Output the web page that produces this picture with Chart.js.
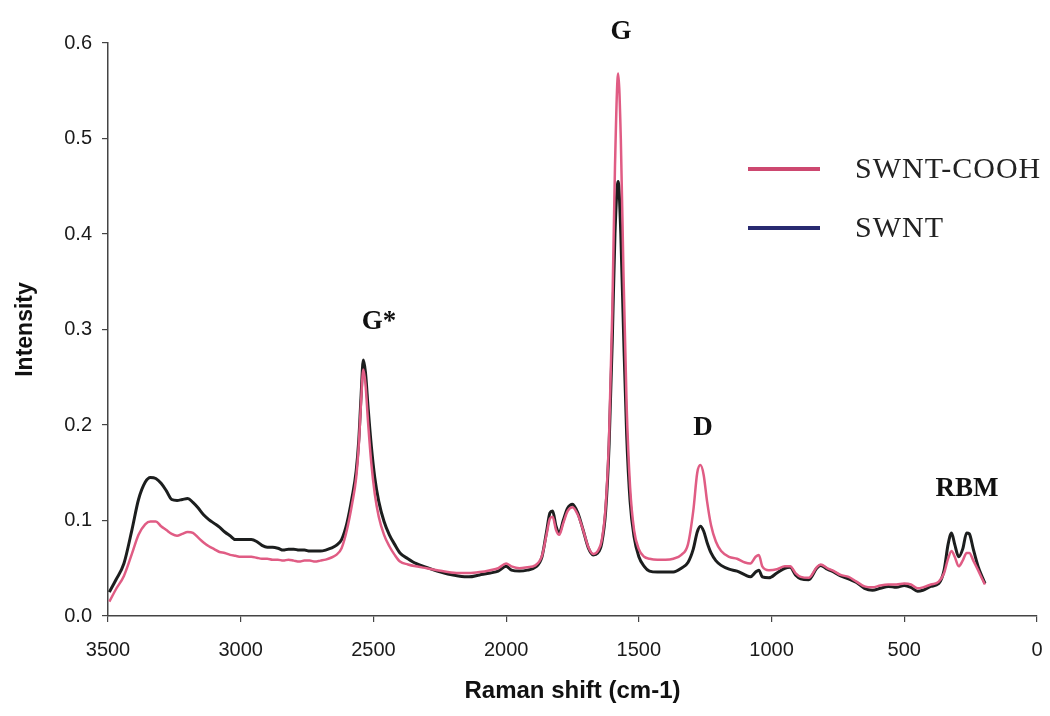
<!DOCTYPE html>
<html>
<head>
<meta charset="utf-8">
<script src="https://cdn.jsdelivr.net/npm/chart.js@4.4.1/dist/chart.umd.min.js"></script>
<style>
  html, body { margin: 0; padding: 0; background: #fff; }
  #wrap { width: 1050px; height: 716px; position: relative; }
</style>
</head>
<body>
<div id="wrap"><canvas id="ramanChart"></canvas></div>
<script>
// Raman shift (cm-1)
const shift = [
  3495, 3470, 3440, 3410, 3385, 3360, 3340, 3320, 3300, 3280,
  3260, 3240, 3220, 3200, 3180, 3160, 3140, 3120, 3100, 3080,
  3060, 3040, 3020, 3000, 2980, 2960, 2940, 2920, 2900, 2880,
  2860, 2840, 2820, 2800, 2780, 2760, 2740, 2720, 2700, 2680,
  2660, 2640, 2620, 2600, 2580, 2565, 2555, 2547, 2538, 2530,
  2520, 2508, 2495, 2480, 2460, 2440, 2420, 2400, 2370, 2340,
  2300, 2260, 2220, 2180, 2140, 2100, 2060, 2030, 2000, 1980,
  1950, 1920, 1890, 1865, 1848, 1835, 1825, 1812, 1800, 1785,
  1768, 1750, 1730, 1710, 1690, 1672, 1655, 1640, 1625, 1612,
  1600, 1590, 1578, 1568, 1558, 1546, 1533, 1518, 1500, 1480,
  1460, 1430, 1400, 1370, 1340, 1315, 1295, 1280, 1268, 1256,
  1243, 1228, 1210, 1190, 1160, 1130, 1100, 1080, 1060, 1048,
  1035, 1010, 980, 950, 930, 910, 890, 860, 830, 815,
  790, 765, 740, 710, 680, 650, 620, 590, 560, 530,
  500, 475, 450, 430, 400, 370, 350, 335, 322, 310,
  295, 280, 265, 255, 240, 222, 205, 196
];

const swnt = [
  0.025, 0.038, 0.055, 0.090, 0.122, 0.140, 0.145, 0.144, 0.139, 0.131,
  0.122, 0.121, 0.122, 0.123, 0.119, 0.113, 0.106, 0.101, 0.097, 0.093,
  0.088, 0.084, 0.080, 0.080, 0.080, 0.080, 0.078, 0.074, 0.072, 0.072,
  0.071, 0.069, 0.070, 0.070, 0.069, 0.069, 0.068, 0.068, 0.068, 0.069,
  0.071, 0.074, 0.080, 0.097, 0.125, 0.152, 0.185, 0.228, 0.268, 0.255,
  0.218, 0.178, 0.145, 0.120, 0.099, 0.085, 0.075, 0.066, 0.060, 0.055,
  0.051, 0.047, 0.044, 0.042, 0.041, 0.043, 0.045, 0.047, 0.052, 0.048,
  0.047, 0.048, 0.051, 0.062, 0.088, 0.108, 0.110, 0.094, 0.087, 0.100,
  0.113, 0.117, 0.108, 0.090, 0.071, 0.064, 0.066, 0.076, 0.110, 0.180,
  0.290, 0.400, 0.455, 0.400, 0.300, 0.190, 0.120, 0.083, 0.062, 0.052,
  0.047, 0.046, 0.046, 0.046, 0.050, 0.056, 0.070, 0.088, 0.094, 0.089,
  0.077, 0.066, 0.058, 0.053, 0.049, 0.047, 0.043, 0.041, 0.046, 0.048,
  0.041, 0.040, 0.045, 0.050, 0.051, 0.043, 0.039, 0.038, 0.050, 0.053,
  0.049, 0.046, 0.042, 0.039, 0.035, 0.029, 0.027, 0.029, 0.031, 0.030,
  0.032, 0.030, 0.026, 0.027, 0.031, 0.034, 0.048, 0.075, 0.087, 0.075,
  0.062, 0.070, 0.087, 0.086, 0.070, 0.052, 0.040, 0.034
];

const swntCooh = [
  0.015, 0.028, 0.042, 0.065, 0.085, 0.096, 0.099, 0.099, 0.094, 0.090,
  0.086, 0.084, 0.086, 0.088, 0.087, 0.082, 0.077, 0.073, 0.070, 0.067,
  0.066, 0.064, 0.063, 0.062, 0.062, 0.062, 0.061, 0.060, 0.060, 0.059,
  0.059, 0.058, 0.059, 0.058, 0.057, 0.058, 0.058, 0.057, 0.058, 0.059,
  0.061, 0.064, 0.071, 0.090, 0.118, 0.145, 0.180, 0.222, 0.258, 0.243,
  0.202, 0.160, 0.128, 0.104, 0.085, 0.073, 0.064, 0.057, 0.054, 0.052,
  0.050, 0.048, 0.046, 0.045, 0.045, 0.046, 0.048, 0.050, 0.055, 0.052,
  0.050, 0.051, 0.053, 0.063, 0.085, 0.102, 0.104, 0.090, 0.085, 0.097,
  0.110, 0.114, 0.106, 0.090, 0.072, 0.065, 0.068, 0.079, 0.115, 0.190,
  0.320, 0.470, 0.568, 0.500, 0.360, 0.220, 0.135, 0.090, 0.070, 0.062,
  0.060, 0.059, 0.059, 0.060, 0.064, 0.075, 0.110, 0.150, 0.158, 0.148,
  0.120, 0.095, 0.078, 0.068, 0.062, 0.060, 0.056, 0.055, 0.062, 0.064,
  0.052, 0.048, 0.049, 0.052, 0.052, 0.045, 0.041, 0.040, 0.051, 0.054,
  0.050, 0.047, 0.043, 0.041, 0.036, 0.031, 0.030, 0.032, 0.033, 0.033,
  0.034, 0.033, 0.029, 0.030, 0.033, 0.036, 0.045, 0.060, 0.068, 0.062,
  0.052, 0.058, 0.066, 0.066, 0.058, 0.048, 0.038, 0.033
];

// peak labels
const peakNames = ['G*', 'G', 'D', 'RBM'];
const peakShift = [2479, 1567, 1258, 264];
const peakLevel = [0.308, 0.611, 0.197, 0.133];

const xTicks = [3500, 3000, 2500, 2000, 1500, 1000, 500, 0];

const toPoints = (ys) => shift.map((x, i) => ({ x: x, y: ys[i] }));

const whiteBg = {
  id: 'whiteBg',
  beforeDraw(chart) {
    const c = chart.ctx;
    c.save();
    c.fillStyle = '#fff';
    c.fillRect(0, 0, chart.width, chart.height);
    c.restore();
  }
};

const peakText = {
  id: 'peakText',
  afterDatasetsDraw(chart) {
    const c = chart.ctx;
    const xs = chart.scales.x, ys = chart.scales.y;
    c.save();
    c.fillStyle = '#111';
    c.font = 'bold 27px "Liberation Serif", "Times New Roman", serif';
    c.textAlign = 'center';
    c.textBaseline = 'middle';
    peakNames.forEach((name, i) => {
      c.fillText(name, xs.getPixelForValue(peakShift[i]), ys.getPixelForValue(peakLevel[i]));
    });
    c.restore();
  }
};

// legend drawn in the plot, like the original
const sideLegend = {
  id: 'sideLegend',
  afterDraw(chart) {
    const c = chart.ctx;
    const sets = chart.data.datasets.slice().sort((a, b) => a.legendRank - b.legendRank);
    c.save();
    c.font = '30px "Liberation Serif", "Times New Roman", serif';
    c.letterSpacing = '1px';
    c.textBaseline = 'middle';
    c.textAlign = 'left';
    sets.forEach((ds, i) => {
      const y = 169 + i * 59;
      c.strokeStyle = ds.legendColor;
      c.lineWidth = 4;
      c.beginPath();
      c.moveTo(748, y);
      c.lineTo(820, y);
      c.stroke();
      c.fillStyle = '#222';
      c.fillText(ds.label, 855, y + 1);
    });
    c.restore();
  }
};

const data = {
  datasets: [
    {
      label: 'SWNT-COOH',
      data: toPoints(swntCooh),
      borderColor: 'rgb(224, 92, 132)',
      legendColor: 'rgb(205, 72, 112)',
      legendRank: 0,
      borderWidth: 2.5,
      order: 0
    },
    {
      label: 'SWNT',
      data: toPoints(swnt),
      borderColor: 'rgb(28, 30, 30)',
      legendColor: 'rgb(40, 42, 112)',
      legendRank: 1,
      borderWidth: 3,
      order: 1
    }
  ]
};

const config = {
  type: 'line',
  data: data,
  options: {
    responsive: true,
    maintainAspectRatio: false,
    animation: false,
    parsing: false,
    layout: { padding: { top: 43, right: 13, left: 0, bottom: 0 } },
    elements: {
      point: { radius: 0 },
      line: { cubicInterpolationMode: 'monotone', fill: false }
    },
    plugins: {
      legend: { display: false },
      tooltip: { enabled: false }
    },
    scales: {
      x: {
        type: 'linear',
        reverse: true,
        min: 0,
        max: 3500,
        afterFit: (s) => { s.height = 100; s.paddingLeft = 0; s.paddingRight = 0; },
        afterBuildTicks: (s) => { s.ticks = xTicks.map(v => ({ value: v })); },
        border: { display: true, color: '#444', width: 1.5 },
        grid: { display: true, drawOnChartArea: false, drawTicks: true, tickLength: 6, color: '#444', lineWidth: 1.2 },
        ticks: {
          color: '#1a1a1a',
          padding: 16,
          maxRotation: 0,
          callback: (v) => String(v),
          font: { family: '"Liberation Sans", Arial, sans-serif', size: 20 }
        },
        title: {
          display: true,
          text: 'Raman shift (cm-1)',
          color: '#111',
          padding: { top: 0, bottom: 10 },
          font: { family: '"Liberation Sans", Arial, sans-serif', size: 24, weight: 'bold' }
        }
      },
      y: {
        min: 0,
        max: 0.6,
        afterFit: (s) => { s.width = 108; },
        border: { display: true, color: '#444', width: 1.5 },
        grid: { display: true, drawOnChartArea: false, drawTicks: true, tickLength: 6, color: '#444', lineWidth: 1.2 },
        ticks: {
          stepSize: 0.1,
          color: '#1a1a1a',
          padding: 10,
          callback: (v) => v.toFixed(1),
          font: { family: '"Liberation Sans", Arial, sans-serif', size: 20 }
        },
        title: {
          display: true,
          text: 'Intensity',
          color: '#111',
          padding: { top: 12, bottom: 0 },
          font: { family: '"Liberation Sans", Arial, sans-serif', size: 23, weight: 'bold' }
        }
      }
    }
  },
  plugins: [whiteBg, peakText, sideLegend]
};

const ramanCanvas = document.getElementById('ramanChart').getContext('2d');
const ramanChart = new Chart(ramanCanvas, config);
</script>
</body>
</html>
